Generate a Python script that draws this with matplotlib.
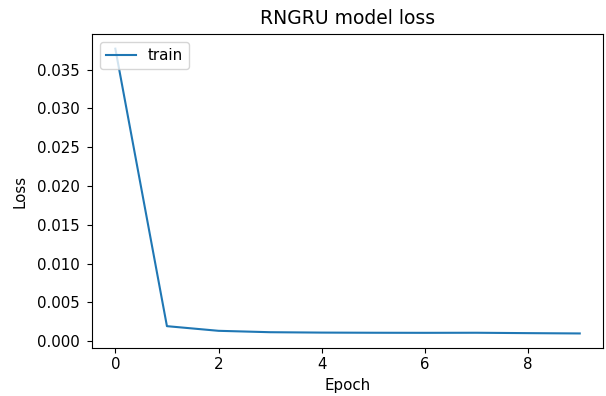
import matplotlib
matplotlib.use('Agg')
import matplotlib.pyplot as plt

# loss per epoch
epochs = [0, 1, 2, 3, 4, 5, 6, 7, 8, 9]
loss = [0.0377, 0.00192, 0.00132, 0.00114, 0.00109, 0.00107, 0.00106, 0.00107, 0.00102, 0.00098]

plt.rcParams['font.size'] = 10.8
plt.rcParams['ytick.major.pad'] = 5.5

fig = plt.figure(figsize=(6.06, 3.96), dpi=100)
plt.plot(epochs, loss)
plt.title('RNGRU model loss', fontsize=13.5, pad=7.5)
plt.ylabel('Loss', labelpad=7)
plt.xlabel('Epoch')
plt.legend(['train'], loc='upper left')
plt.subplots_adjust(left=0.152, right=0.995, top=0.913, bottom=0.122)
plt.savefig('out.png')
